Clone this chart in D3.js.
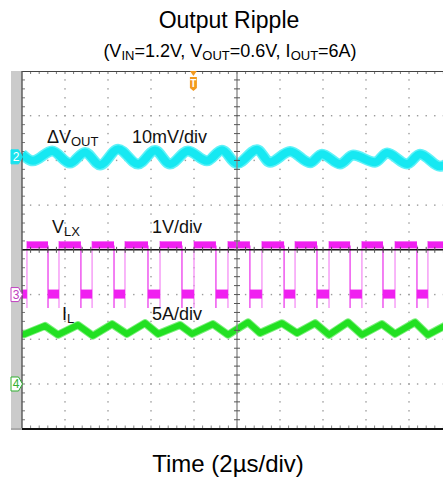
<!DOCTYPE html>
<html>
<head>
<meta charset="utf-8">
<script src="https://cdn.jsdelivr.net/npm/d3@7"></script>
<style>
  body{margin:0;background:#fff;}
  svg{display:block;font-family:"Liberation Sans",Arial,sans-serif;}
</style>
</head>
<body>
<svg id="chart"></svg>
<script>
// scope settings: 2us/div over 10 div, 8 vertical div
var timeDomain = [0, 20];
var divDomain = [-4, 4];
var dvOffset = 2.08, dvPerDiv = 10;   // mV
var vlxOffset = -1, vlxPerDiv = 1;    // V
var ilOffset = -3, ilPerDiv = 5;      // A

// delta Vout ripple (us, mV)
var dvTime  = [0.00,0.51,1.40,2.23,2.93,3.63,4.47,5.40,6.19,6.88,7.72,8.60,9.30,10.00,10.93,11.53,12.47,13.40,13.95,14.79,15.40,16.42,16.98,17.91,18.51,19.44,20.00];
var dvValue = [0.6,-0.9,1.3,-1.4,1.0,-1.8,1.7,-1.6,1.4,-1.6,1.3,-0.9,1.5,-1.5,1.6,-1.2,1.2,-1.3,0.6,-1.6,0.4,-1.2,0.85,-1.6,0.6,-2.1,-1.0];

// switch node edges (us) and levels (V)
var vlxRise = [0.23,1.72,3.26,4.79,6.42,8.00,9.58,11.16,12.70,14.28,15.81,17.35,18.88];
var vlxFall = [1.21,2.74,4.28,5.86,7.44,9.02,10.60,12.19,13.72,15.26,16.79,18.37,19.90];
var vlxHigh = 1.1, vlxLow = 0.0, vlxSpike = -0.3, vlxOver = 1.2;

// inductor current (us, A)
var ilTime  = [0.00,0.09,1.07,1.67,2.60,3.30,4.19,4.88,5.72,6.33,7.35,7.91,8.88,9.58,10.51,11.07,12.09,12.79,13.63,14.28,15.16,15.81,16.74,17.35,18.28,18.88,19.90,20.00];
var ilValue = [5.6,5.55,6.5,5.5,6.6,5.4,6.7,5.6,6.8,5.6,6.6,5.6,6.7,5.5,6.9,5.7,6.8,5.7,6.8,5.5,6.9,5.5,6.7,5.6,6.9,5.5,6.8,6.7];

var W = 443, H = 479;
var svg = d3.select("#chart").attr("width", W).attr("height", H);

var x = d3.scaleLinear().domain(timeDomain).range([22, 452]);
var y = d3.scaleLinear().domain(divDomain).range([428.7, 71]);

function yDv(v){ return y(dvOffset + v/dvPerDiv); }
function yVlx(v){ return y(vlxOffset + v/vlxPerDiv); }
function yIl(v){ return y(ilOffset + v/ilPerDiv); }

// titles
svg.append("text").attr("x", 229).attr("y", 28).attr("text-anchor","middle")
   .attr("font-size", 23).text("Output Ripple");

var sub = svg.append("text").attr("x", 230).attr("y", 57).attr("text-anchor","middle")
   .attr("font-size", 18);
[["(V",""],["IN","s"],["=1.2V, V",""],["OUT","s"],["=0.6V, I",""],["OUT","s"],["=6A)",""]]
  .forEach(function(p, i){
    var t = sub.append("tspan").text(p[0]);
    if(p[1]=="s"){ t.attr("font-size", 13).attr("dy", 3); }
    else if(i>0){ t.attr("dy", -3); }
  });

svg.append("text").attr("x", 228).attr("y", 472).attr("text-anchor","middle")
   .attr("font-size", 24).text("Time (2\u00b5s/div)");

// left channel strip
svg.append("rect").attr("x", 11).attr("y", 71).attr("width", 11).attr("height", 357.7)
   .attr("fill", "#cbcbcb");

svg.append("clipPath").attr("id","plotclip").append("rect")
   .attr("x", 22).attr("y", 71).attr("width", 430).attr("height", 357.7);

var grid = svg.append("g");
var minorX = d3.range(timeDomain[0], timeDomain[1]+0.001, 0.4);
var minorY = d3.range(divDomain[0], divDomain[1]+0.001, 0.2);
var majorX = d3.range(2, 20, 2).filter(function(d){ return d!=10; });
var majorY = d3.range(-3, 4, 1).filter(function(d){ return d!=0; });

// dotted vertical grid
majorX.forEach(function(t){
  grid.selectAll(null).data(minorY.slice(1,-1)).enter().append("rect")
      .attr("x", x(t)-0.7).attr("y", function(d){ return y(d)-0.7; })
      .attr("width", 1.4).attr("height", 1.4).attr("fill", "#9a9a9a");
});
// dotted horizontal grid
majorY.forEach(function(v){
  grid.selectAll(null).data(minorX.slice(1)).enter().append("rect")
      .attr("x", function(d){ return x(d)-0.7; }).attr("y", y(v)-0.7)
      .attr("width", 1.4).attr("height", 1.4).attr("fill", "#9a9a9a");
});
// border ticks
grid.selectAll(null).data(minorX.slice(1)).enter().append("line")
    .attr("x1", function(d){ return x(d); }).attr("x2", function(d){ return x(d); })
    .attr("y1", 71).attr("y2", 74).attr("stroke", "#777").attr("stroke-width", 1);
grid.selectAll(null).data(minorX.slice(1)).enter().append("line")
    .attr("x1", function(d){ return x(d); }).attr("x2", function(d){ return x(d); })
    .attr("y1", 428.7).attr("y2", 425.5).attr("stroke", "#888").attr("stroke-width", 1);
grid.selectAll(null).data(minorY.slice(1,-1)).enter().append("line")
    .attr("x1", 22).attr("x2", 25).attr("y1", function(d){ return y(d); })
    .attr("y2", function(d){ return y(d); }).attr("stroke", "#777").attr("stroke-width", 1);

// traces
var traces = svg.append("g").attr("clip-path", "url(#plotclip)");

var dvLine = d3.line().x(function(d){ return x(d[0]); }).y(function(d){ return yDv(d[1]); })
               .curve(d3.curveMonotoneX);
var dvData = d3.zip(dvTime, dvValue);
traces.append("path").attr("d", dvLine(dvData)).attr("fill","none")
      .attr("stroke", "#5ef2f8").attr("stroke-width", 11).attr("stroke-linejoin","round");
traces.append("path").attr("d", dvLine(dvData)).attr("fill","none")
      .attr("stroke", "#16e8f2").attr("stroke-width", 8).attr("stroke-linejoin","round");

// switch node: edges then flat levels
traces.selectAll(null).data(vlxRise).enter().append("line")
      .attr("x1", function(d){ return x(d); }).attr("x2", function(d){ return x(d); })
      .attr("y1", yVlx(vlxSpike)).attr("y2", yVlx(vlxOver))
      .attr("stroke", "#f58ff5").attr("stroke-width", 1.3);
traces.selectAll(null).data(vlxFall).enter().append("line")
      .attr("x1", function(d){ return x(d); }).attr("x2", function(d){ return x(d); })
      .attr("y1", yVlx(vlxSpike)).attr("y2", yVlx(vlxHigh))
      .attr("stroke", "#ec3cec").attr("stroke-width", 1.3);
var highs = vlxRise.map(function(r, i){ return [r, vlxFall[i]]; });
var lows = [[timeDomain[0], vlxRise[0]]].concat(vlxFall.map(function(f, i){
  return [f, i+1 < vlxRise.length ? vlxRise[i+1] : timeDomain[1]];
}));
traces.selectAll(null).data(highs).enter().append("rect")
      .attr("x", function(d){ return x(d[0]); }).attr("width", function(d){ return x(d[1])-x(d[0]); })
      .attr("y", yVlx(vlxHigh)-4).attr("height", 7).attr("fill", "#f020f0");
traces.selectAll(null).data(lows).enter().append("rect")
      .attr("x", function(d){ return x(d[0]); }).attr("width", function(d){ return x(d[1])-x(d[0]); })
      .attr("y", yVlx(vlxLow)-5).attr("height", 9).attr("fill", "#f020f0");

// inductor current
var ilLine = d3.line().x(function(d){ return x(d[0]); }).y(function(d){ return yIl(d[1]); });
var ilData = d3.zip(ilTime, ilValue);
traces.append("path").attr("d", ilLine(ilData)).attr("fill","none")
      .attr("stroke", "#7cf07c").attr("stroke-width", 8).attr("stroke-linejoin","round");
traces.append("path").attr("d", ilLine(ilData)).attr("fill","none")
      .attr("stroke", "#22e022").attr("stroke-width", 6).attr("stroke-linejoin","round");

// center lines on top
svg.append("line").attr("x1", 22).attr("x2", 452).attr("y1", y(0)).attr("y2", y(0))
   .attr("stroke", "#111").attr("stroke-width", 1.5);
svg.append("line").attr("x1", x(10)).attr("x2", x(10)).attr("y1", 71).attr("y2", 428.7)
   .attr("stroke", "#8a8a8a").attr("stroke-opacity", 0.85).attr("stroke-width", 1.6);
svg.selectAll(null).data(minorY.slice(1,-1)).enter().append("line")
   .attr("x1", x(10)-3).attr("x2", x(10)+3)
   .attr("y1", function(d){ return y(d); }).attr("y2", function(d){ return y(d); })
   .attr("stroke", "#555").attr("stroke-width", 1);
svg.selectAll(null).data(minorX.slice(1)).enter().append("line")
   .attr("x1", function(d){ return x(d); }).attr("x2", function(d){ return x(d); })
   .attr("y1", y(0)-3).attr("y2", y(0)+3)
   .attr("stroke", "#555").attr("stroke-width", 1);

// frame
svg.append("line").attr("x1", 22).attr("x2", 452).attr("y1", 71.5).attr("y2", 71.5)
   .attr("stroke", "#444").attr("stroke-width", 1.2);
svg.append("line").attr("x1", 22).attr("x2", 22).attr("y1", 71).attr("y2", 429)
   .attr("stroke", "#555").attr("stroke-width", 1.4);
svg.append("line").attr("x1", 11).attr("x2", 22).attr("y1", 429).attr("y2", 429)
   .attr("stroke", "#aaa").attr("stroke-width", 2);
svg.append("line").attr("x1", 22).attr("x2", 452).attr("y1", 429).attr("y2", 429)
   .attr("stroke", "#111").attr("stroke-width", 2.2);

// channel markers
var markers = [
  {n:"2", v: dvOffset,  fill:"#19e3ee", stroke:"#19e3ee", txt:"#fff"},
  {n:"3", v: vlxOffset, fill:"#fff",    stroke:"#c040c0", txt:"#c040c0"},
  {n:"4", v: ilOffset,  fill:"#fff",    stroke:"#30b030", txt:"#30b030"}
];
markers.forEach(function(m){
  var cy = y(m.v);
  svg.append("path")
     .attr("d", "M11," + (cy-7) + "L18.5," + (cy-7) + "L22.5," + cy + "L18.5," + (cy+7) + "L11," + (cy+7) + "Z")
     .attr("fill", m.fill).attr("stroke", m.stroke).attr("stroke-width", 1);
  svg.append("text").attr("x", 16).attr("y", cy+4.5).attr("text-anchor","middle")
     .attr("font-size", 12).attr("fill", m.txt).text(m.n);
});

// trigger marker
var tx = x(8.0) - 0.6;
svg.append("path").attr("d", "M" + (tx-3.5) + ",71L" + (tx+3.5) + ",71L" + tx + ",76Z").attr("fill", "#f39a1e");
svg.append("path")
   .attr("d", "M" + (tx-3.5) + ",77L" + (tx+3.5) + ",77L" + (tx+3.5) + ",88L" + tx + ",91L" + (tx-3.5) + ",88Z")
   .attr("fill", "#f39a1e");
svg.append("text").attr("x", tx).attr("y", 87).attr("text-anchor","middle")
   .attr("font-size", 10).attr("font-weight","bold").attr("fill", "#fff").text("T");

// channel labels
function label(t, div, main, subTxt){
  var el = svg.append("text").attr("x", x(t)).attr("y", y(div)).attr("font-size", 18).attr("fill", "#111");
  el.append("tspan").text(main);
  if(subTxt){ el.append("tspan").attr("font-size", 13).attr("dy", 3).text(subTxt); }
}
label(1.16, 2.4, "\u0394V", "OUT");
label(5.12, 2.4, "10mV/div");
label(1.4, 0.376, "V", "LX");
label(6.05, 0.376, "1V/div");
label(1.86, -1.58, "I", "L");
label(6.05, -1.58, "5A/div");
</script>
</body>
</html>
